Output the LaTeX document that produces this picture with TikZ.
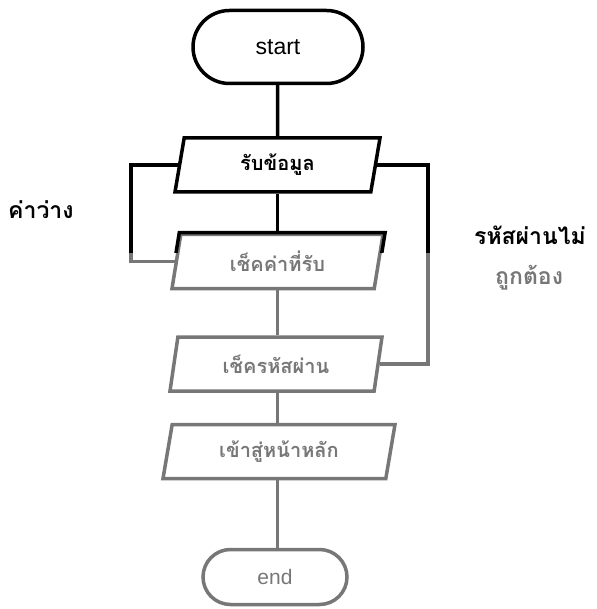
\documentclass[tikz,border=0pt]{standalone}
\usepackage{fontspec}
\setmainfont{Liberation Sans}
\newfontfamily\thaifont[Script=Thai]{Loma}
\usetikzlibrary{shapes.geometric,shapes.misc}
\definecolor{scangray}{HTML}{777777}
\begin{document}
\begin{tikzpicture}[x=1pt,y=-1pt,
  term/.style={rounded rectangle, draw, line width=3.5pt, inner sep=0pt,
    font=\fontsize{23}{23}\selectfont},
  io/.style={trapezium, trapezium left angle=67, trapezium right angle=113,
    trapezium stretches body, draw, line width=3.5pt, inner sep=0pt,
    minimum height=54pt, font=\thaifont\bfseries\fontsize{20}{20}\selectfont},
  link/.style={line width=3.5pt},
  lbl/.style={font=\thaifont\bfseries\fontsize{23}{23}\selectfont, inner sep=0pt},
  upper/.style={draw=black, text=black},
  lower/.style={draw=scangray, text=scangray},
]
\useasboundingbox (0,0) rectangle (596,609);
% nodes
\node[term, upper, minimum width=170pt, minimum height=73pt] (start) at (278,47) {start};
\node[io, upper, minimum width=205pt] (p1) at (277.5,165) {รับข้อมูล};
\node[io, lower, minimum width=211pt] (p2) at (277.5,261.5) {เช็คค่าที่รับ};
\node[io, lower, minimum width=212pt] (p3) at (276,364) {เช็ครหัสผ่าน};
\node[io, lower, minimum width=232pt] (p4) at (279,451.5) {เข้าสู่หน้าหลัก};
\node[term, lower, minimum width=144pt, minimum height=55pt, font=\fontsize{21}{21}\selectfont] (end) at (275,577) {end};
% labels
\node[lbl, text=black, anchor=west] (lempty) at (8,210) {ค่าว่าง};
\node[lbl, text=black, anchor=west] (lwrong1) at (474,235) {รหัสผ่านไม่};
\node[lbl, text=scangray, anchor=west] (lwrong2) at (495,278) {ถูกต้อง};
% helper coordinates
\coordinate (lx) at (131,0);
\coordinate (rx) at (428,0);
% connectors
\draw[link, black] (start.south -| p1) -- (p1.north);
\draw[link, black] (p1.south) -- (p1.south |- p2.north);
\draw[link, scangray] (p2.south -| p1) -- (p1 |- p3.north);
\draw[link, scangray] (p3.south -| p1) -- (p1 |- p4.north);
\draw[link, scangray] (p4.south -| p1) -- (p1 |- end.north);
\draw[link, scangray] (p1.left side) -| (lx |- p2.left side) -- (p2.left side);
\draw[link, scangray] (p1.right side) -| (rx |- p3.right side) -- (p3.right side);
% darker upper part of the scan
\begin{scope}
  \clip (0,0) rectangle (596,252);
  \draw[link, black] (p1.left side) -| (lx |- p2.left side) -- (p2.left side);
  \draw[link, black] (p1.right side) -| (rx |- p3.right side) -- (p3.right side);
  \draw[link, black, line join=miter] (p2.bottom left corner) -- (p2.top left corner)
     -- (p2.top right corner) -- (p2.bottom right corner);
\end{scope}
\end{tikzpicture}
\end{document}
